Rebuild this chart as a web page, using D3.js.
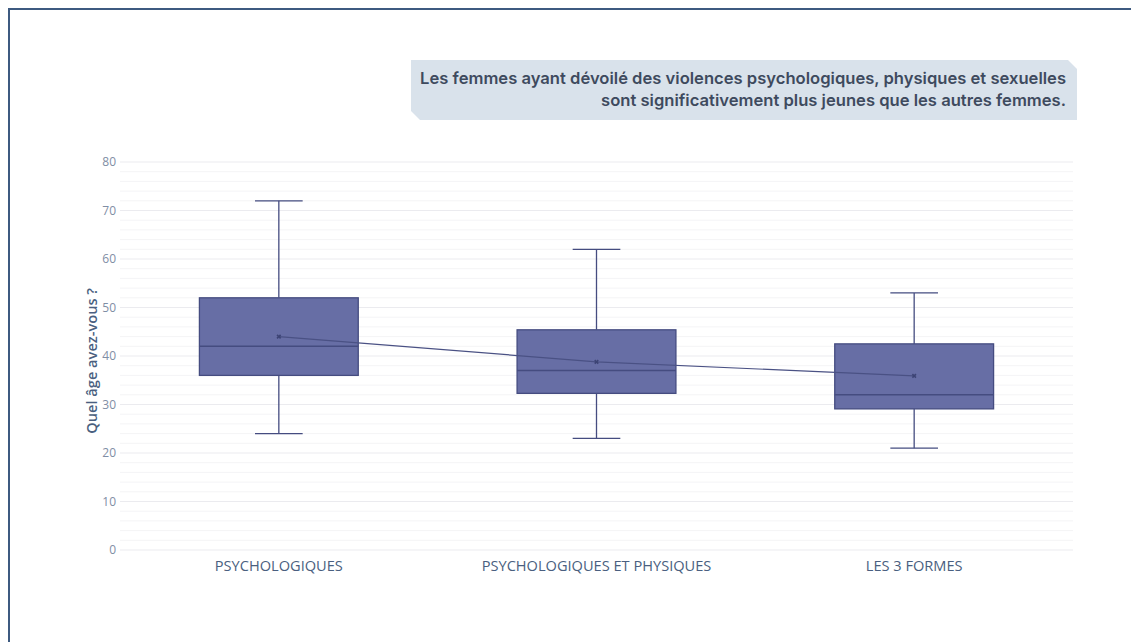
<!DOCTYPE html>
<html>
<head>
<meta charset="utf-8">
<script src="https://cdn.jsdelivr.net/npm/d3@7"></script>
<style>
  html, body { margin: 0; padding: 0; background: #fff; }
  svg { display: block; }
</style>
</head>
<body>
<svg id="chart" width="1131" height="642"></svg>
<script>
const categories = ["PSYCHOLOGIQUES", "PSYCHOLOGIQUES ET PHYSIQUES", "LES 3 FORMES"];
const whiskerLow = [24, 23, 21];
const q1 = [36, 32.3, 29.1];
const median = [42, 37, 32];
const q3 = [52, 45.4, 42.5];
const whiskerHigh = [72, 62, 53];
const means = [44, 38.8, 35.9];
const yTicks = [0, 10, 20, 30, 40, 50, 60, 70, 80];
const titleLines = [
  "Les femmes ayant dévoilé des violences psychologiques, physiques et sexuelles",
  "sont significativement plus jeunes que les autres femmes."
];
const yTitle = "Quel âge avez-vous ?";

const data = categories.map((c, i) => ({
  cat: c, lo: whiskerLow[i], q1: q1[i], med: median[i], q3: q3[i], hi: whiskerHigh[i], mean: means[i]
}));

const svg = d3.select("#chart");

// frame border
svg.append("rect").attr("x", 9).attr("y", 9).attr("width", 1140).attr("height", 660)
  .attr("fill", "none").attr("stroke", "#3d5a80").attr("stroke-width", 2);

const x = d3.scaleBand().domain(categories).range([120, 1073]);
const y = d3.scaleLinear().domain([0, 80]).range([550, 162]);

// minor grid
const minor = d3.range(0, 81, 2).filter(v => v % 10 !== 0);
svg.append("g").selectAll("line").data(minor).join("line")
  .attr("x1", 120).attr("x2", 1073)
  .attr("y1", d => y(d)).attr("y2", d => y(d))
  .attr("stroke", "#f4f4f6").attr("stroke-width", 1);

// major grid
svg.append("g").selectAll("line").data(yTicks).join("line")
  .attr("x1", 120).attr("x2", 1073)
  .attr("y1", d => y(d)).attr("y2", d => y(d))
  .attr("stroke", "#ebebef").attr("stroke-width", 1);

// y axis
const yAxis = svg.append("g").attr("transform", "translate(120,0)")
  .call(d3.axisLeft(y).tickValues(yTicks).tickSize(0).tickPadding(4));
yAxis.select(".domain").remove();
yAxis.selectAll("text").attr("fill", "#7f8ea5").style("font-family", "'Open Sans', sans-serif").style("font-size", "12px");

// x axis
const xAxis = svg.append("g").attr("transform", "translate(0,550)")
  .call(d3.axisBottom(x).tickSize(0).tickPadding(11));
xAxis.select(".domain").remove();
xAxis.selectAll("text").attr("fill", "#4a5f80").style("font-family", "'Open Sans', sans-serif").style("font-size", "14.6px");

// y title
svg.append("text").attr("transform", `translate(97,${y(39)}) rotate(-90)`)
  .attr("text-anchor", "middle")
  .attr("fill", "#4a5f80").style("font-family", "'Open Sans', sans-serif")
  .style("font-size", "14.6px").style("font-weight", "600").text(yTitle);

const bw = x.bandwidth() * 0.5;
const cw = x.bandwidth() * 0.15;
const stroke = "#454c80";

const g = svg.append("g");
const boxes = g.selectAll("g.box").data(data).join("g").attr("class", "box");
const cx = d => x(d.cat) + x.bandwidth() / 2;

boxes.append("line").attr("x1", cx).attr("x2", cx).attr("y1", d => y(d.hi)).attr("y2", d => y(d.q3))
  .attr("stroke", stroke).attr("stroke-width", 1.3);
boxes.append("line").attr("x1", cx).attr("x2", cx).attr("y1", d => y(d.q1)).attr("y2", d => y(d.lo))
  .attr("stroke", stroke).attr("stroke-width", 1.3);
boxes.append("line").attr("x1", d => cx(d) - cw / 2).attr("x2", d => cx(d) + cw / 2)
  .attr("y1", d => y(d.hi)).attr("y2", d => y(d.hi)).attr("stroke", stroke).attr("stroke-width", 1.3);
boxes.append("line").attr("x1", d => cx(d) - cw / 2).attr("x2", d => cx(d) + cw / 2)
  .attr("y1", d => y(d.lo)).attr("y2", d => y(d.lo)).attr("stroke", stroke).attr("stroke-width", 1.3);
boxes.append("rect").attr("x", d => cx(d) - bw / 2).attr("width", bw)
  .attr("y", d => y(d.q3)).attr("height", d => y(d.q1) - y(d.q3))
  .attr("fill", "#676ea5").attr("stroke", stroke).attr("stroke-width", 1.3);
boxes.append("line").attr("x1", d => cx(d) - bw / 2).attr("x2", d => cx(d) + bw / 2)
  .attr("y1", d => y(d.med)).attr("y2", d => y(d.med)).attr("stroke", stroke).attr("stroke-width", 1.5);

// mean line
const line = d3.line().x(d => cx(d)).y(d => y(d.mean));
g.append("path").datum(data).attr("d", line).attr("fill", "none")
  .attr("stroke", "#4a5184").attr("stroke-width", 1.2);
g.selectAll("path.m").data(data).join("path").attr("class", "m")
  .attr("d", d3.symbol(d3.symbolCross, 14)).attr("transform", d => `translate(${cx(d)},${y(d.mean)}) rotate(45)`)
  .attr("fill", "#3d4475");

// title box
const tx0 = 411, tx1 = 1077, ty0 = 60, ty1 = 120, ch = 9;
svg.append("path").attr("d", `M${tx0},${ty0} L${tx1 - ch},${ty0} L${tx1},${ty0 + ch} L${tx1},${ty1} L${tx0 + ch},${ty1} L${tx0},${ty1 - ch} Z`)
  .attr("fill", "#d9e2eb");
const tt = svg.append("text").attr("text-anchor", "end")
  .attr("fill", "#3e4a5e").style("font-family", "Inter, Lato, sans-serif")
  .style("font-size", "16.6px").style("font-weight", "600");
titleLines.forEach((t, i) => tt.append("tspan").attr("x", 1066).attr("y", 84 + i * 22).text(t));
</script>
</body>
</html>
